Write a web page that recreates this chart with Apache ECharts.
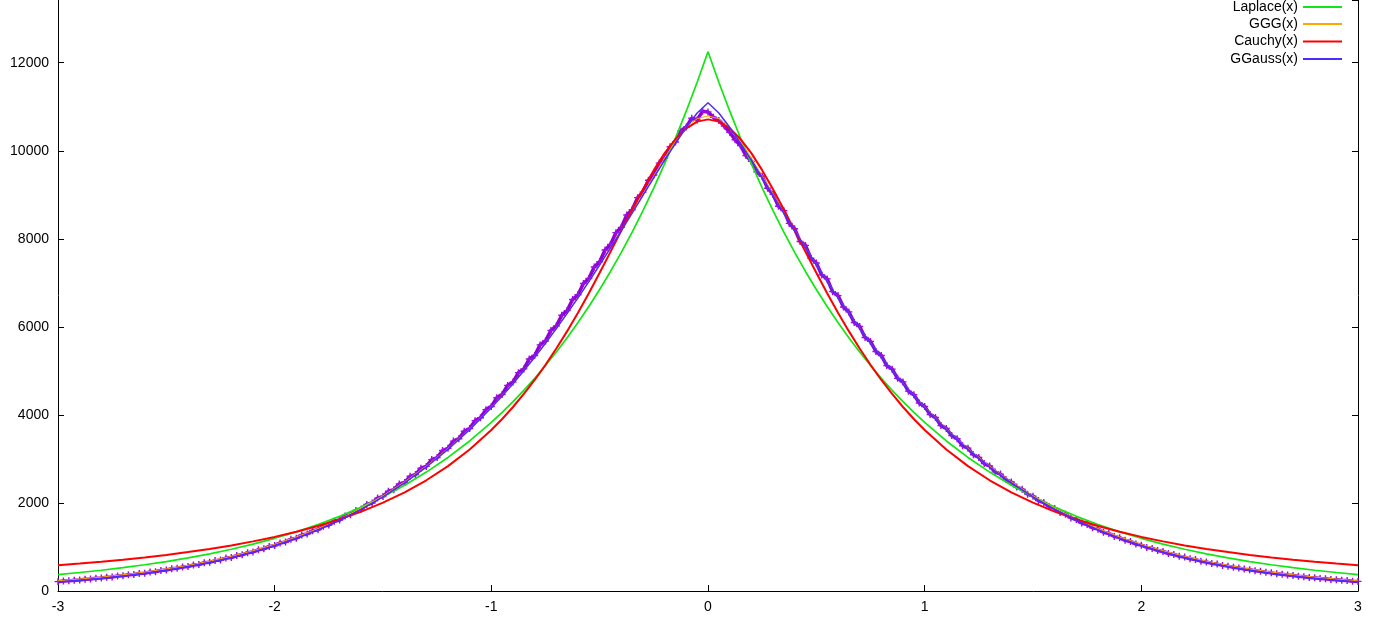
<!DOCTYPE html>
<html>
<head>
<meta charset="utf-8">
<script src="https://cdn.jsdelivr.net/npm/echarts@6/dist/echarts.min.js"></script>
<style>html,body{margin:0;padding:0;background:#fff}#c{width:1374px;height:620px}</style>
</head>
<body>
<div id="c"></div>
<script>
// ---- Data ----
const curveX = [-3,-2.9,-2.8,-2.7,-2.6,-2.5,-2.4,-2.3,-2.2,-2.1,-2,-1.9,-1.8,-1.7,-1.6,-1.5,-1.4,-1.3,-1.2,-1.1,-1,
  -0.95,-0.9,-0.85,-0.8,-0.75,-0.7,-0.65,-0.6,-0.55,-0.5,-0.45,-0.4,-0.35,-0.3,-0.25,-0.2,-0.15,-0.1,-0.05,
  0,
  0.05,0.1,0.15,0.2,0.25,0.3,0.35,0.4,0.45,0.5,0.55,0.6,0.65,0.7,0.75,0.8,0.85,0.9,0.95,
  1,1.1,1.2,1.3,1.4,1.5,1.6,1.7,1.8,1.9,2,2.1,2.2,2.3,2.4,2.5,2.6,2.7,2.8,2.9,3];

const laplaceY = [374,420,472,530,596,669,752,844,948,1065,1197,1344,1510,1696,1905,2140,2404,2701,3034,3408,3829,
  4058,4301,4559,4831,5121,5427,5752,6097,6462,6849,7259,7693,8154,8642,9159,9708,10289,10905,11558,
  12250,
  11558,10905,10289,9708,9159,8642,8154,7693,7259,6849,6462,6097,5752,5427,5121,4831,4559,4301,4058,
  3829,3408,3034,2701,2404,2140,1905,1696,1510,1344,1197,1065,948,844,752,669,596,530,472,420,374];

const gggY = [232,271,316,369,430,501,583,678,788,915,1060,1228,1418,1636,1884,2164,2481,2838,3237,3682,4175,
  4440,4718,5010,5315,5635,5965,6310,6665,7035,7415,7805,8205,8610,9020,9430,9840,10220,10540,10730,
  10790,
  10730,10540,10220,9840,9430,9020,8610,8205,7805,7415,7035,6665,6310,5965,5635,5315,5010,4718,4440,
  4175,3682,3237,2838,2481,2164,1884,1636,1418,1228,1060,915,788,678,583,501,430,369,316,271,232];

const cauchyY = [583,622,664,711,763,820,885,956,1036,1127,1229,1345,1478,1629,1804,2006,2241,2515,2836,3213,3658,
  3908,4180,4476,4794,5138,5507,5903,6322,6765,7228,7704,8186,8665,9128,9560,9946,10267,10510,10662,
  10713,
  10662,10510,10267,9946,9560,9128,8665,8186,7704,7228,6765,6322,5903,5507,5138,4794,4476,4180,3908,
  3658,3213,2836,2515,2241,2006,1804,1629,1478,1345,1229,1127,1036,956,885,820,763,711,664,622,583];

const ggaussY = [204,242,286,338,398,469,551,646,756,883,1028,1196,1388,1607,1856,2138,2457,2816,3218,3666,4163,
  4430,4710,5003,5309,5629,5960,6305,6660,7028,7406,7792,8186,8586,8988,9390,9786,10170,10533,10857,
  11090,
  10857,10533,10170,9786,9390,8988,8586,8186,7792,7406,7028,6660,6305,5960,5629,5309,5003,4710,4430,
  4163,3666,3218,2816,2457,2138,1856,1607,1388,1196,1028,883,756,646,551,469,398,338,286,242,204];

const dataX = [-3,-2.975,-2.95,-2.925,-2.9,-2.875,-2.85,-2.825,-2.8,-2.775,-2.75,-2.725,-2.7,-2.675,-2.65,-2.625,
  -2.6,-2.575,-2.55,-2.525,-2.5,-2.475,-2.45,-2.425,-2.4,-2.375,-2.35,-2.325,-2.3,-2.275,-2.25,-2.225,
  -2.2,-2.175,-2.15,-2.125,-2.1,-2.075,-2.05,-2.025,-2,-1.975,-1.95,-1.925,-1.9,-1.875,-1.85,-1.825,
  -1.8,-1.775,-1.75,-1.725,-1.7,-1.675,-1.65,-1.625,-1.6,-1.575,-1.55,-1.525,-1.5,-1.475,-1.45,-1.425,
  -1.4,-1.375,-1.35,-1.325,-1.3,-1.275,-1.25,-1.225,-1.2,-1.175,-1.15,-1.125,-1.1,-1.075,-1.05,-1.025,
  -1,-0.975,-0.95,-0.925,-0.9,-0.875,-0.85,-0.825,-0.8,-0.775,-0.75,-0.725,-0.7,-0.675,-0.65,-0.625,
  -0.6,-0.575,-0.55,-0.525,-0.5,-0.475,-0.45,-0.425,-0.4,-0.375,-0.35,-0.325,-0.3,-0.275,-0.25,-0.225,
  -0.2,-0.175,-0.15,-0.125,-0.1,-0.075,-0.05,-0.025,
  0,0.025,0.05,0.075,0.1,0.125,0.15,0.175,0.2,0.225,0.25,0.275,0.3,0.325,0.35,0.375,
  0.4,0.425,0.45,0.475,0.5,0.525,0.55,0.575,0.6,0.625,0.65,0.675,0.7,0.725,0.75,0.775,
  0.8,0.825,0.85,0.875,0.9,0.925,0.95,0.975,1,1.025,1.05,1.075,1.1,1.125,1.15,1.175,
  1.2,1.225,1.25,1.275,1.3,1.325,1.35,1.375,1.4,1.425,1.45,1.475,1.5,1.525,1.55,1.575,
  1.6,1.625,1.65,1.675,1.7,1.725,1.75,1.775,1.8,1.825,1.85,1.875,1.9,1.925,1.95,1.975,
  2,2.025,2.05,2.075,2.1,2.125,2.15,2.175,2.2,2.225,2.25,2.275,2.3,2.325,2.35,2.375,
  2.4,2.425,2.45,2.475,2.5,2.525,2.55,2.575,2.6,2.625,2.65,2.675,2.7,2.725,2.75,2.775,
  2.8,2.825,2.85,2.875,2.9,2.925,2.95,2.975,3];

const dataY = [212,226,230,246,250,268,271,290,294,314,319,340,346,368,375,399,
  405,431,440,467,476,506,515,547,557,592,603,641,652,690,705,748,
  760,806,822,871,886,939,957,1012,1031,1092,1112,1177,1199,1270,1293,1368,
  1392,1472,1499,1584,1612,1702,1734,1830,1862,1966,2000,2110,2145,2265,2300,2430,
  2466,2605,2645,2790,2830,2985,3030,3190,3240,3405,3460,3630,3690,3870,3935,4120,
  4190,4390,4465,4670,4745,4960,5045,5270,5350,5590,5680,5920,6020,6265,6370,6620,
  6730,6985,7100,7360,7480,7745,7870,8140,8260,8540,8660,8935,9060,9330,9450,9720,
  9830,10090,10200,10450,10540,10740,10700,10900,
  10880,10760,10690,10560,10420,10250,10120,9890,9760,9520,9420,9150,9010,8740,8640,8350,
  8230,7940,7850,7560,7450,7180,7090,6800,6710,6450,6340,6100,6010,5760,5670,5440,
  5350,5120,5040,4830,4750,4540,4460,4270,4190,4010,3940,3760,3690,3530,3460,3300,
  3245,3095,3035,2895,2840,2705,2655,2530,2475,2360,2310,2200,2155,2055,2010,1915,
  1875,1785,1745,1660,1625,1545,1510,1435,1405,1335,1305,1240,1212,1150,1124,1066,
  1042,990,968,921,897,852,831,790,770,731,713,678,660,627,611,582,
  565,537,522,497,482,460,446,424,412,393,380,362,351,334,325,308,
  299,285,277,262,255,242,236,223,218];

const xTicks = {min: -3, max: 3, interval: 1};
const yTicks = {min: 0, max: 13425, interval: 2000};
const seriesNames = ['Laplace(x)', 'GGG(x)', 'Cauchy(x)', 'GGauss(x)'];
const seriesColors = ['#12e612', '#ffa500', '#ff0000', '#4a2dff'];

// ---- Build chart ----
const pair = (xs, ys) => xs.map((x, i) => [x, ys[i]]);
const curves = [laplaceY, gggY, cauchyY, ggaussY];
const widths = [1.7, 1, 2, 1.5];
const font = "'Liberation Sans', Arial, Helvetica, sans-serif";

const chart = echarts.init(document.getElementById('c'), null, {renderer: 'canvas'});
const plus = 'path://M2,0H3V2H5V3H3V5H2V3H0V2H2Z';

const series = [
  {
    name: 'data', type: 'line', data: pair(dataX, dataY),
    lineStyle: {color: '#9400d3', width: 3.5}, itemStyle: {color: '#9a10e0'},
    symbol: plus, symbolSize: 7, showSymbol: true, showAllSymbol: true,
    silent: true, z: 2
  }
].concat(curves.map((c, i) => ({
  name: seriesNames[i], type: 'line', data: pair(curveX, c),
  showSymbol: false, symbol: 'none', smooth: false,
  lineStyle: {color: seriesColors[i], width: widths[i]},
  itemStyle: {color: seriesColors[i]}, z: 3
})));

const legendTops = [0, 17, 34.5, 52];
const legends = seriesNames.map((n, i) => ({
  data: [n], orient: 'vertical', right: 32, top: legendTops[i], padding: 0,
  icon: 'rect', itemWidth: 39, itemHeight: 2, align: 'right', itemGap: 0,
  textStyle: {fontSize: 14, color: '#000', fontFamily: font},
  selectedMode: false
}));

const yLabelFmt = v => String(v);

chart.setOption({
  animation: false,
  backgroundColor: '#fff',
  grid: {left: 58, right: 16, top: 0, bottom: 29, containLabel: false, outerBoundsMode: 'none'},
  legend: legends,
  xAxis: {
    type: 'value', min: xTicks.min, max: xTicks.max, interval: xTicks.interval,
    axisLine: {show: true, onZero: false, lineStyle: {color: '#000', width: 1}},
    axisTick: {show: true, inside: true, length: 6, lineStyle: {color: '#000'}},
    axisLabel: {color: '#000', fontSize: 14, fontFamily: font, margin: 9},
    splitLine: {show: false}
  },
  yAxis: [{
    type: 'value', position: 'left', min: yTicks.min, max: yTicks.max, interval: yTicks.interval,
    axisLine: {show: true, onZero: false, lineStyle: {color: '#000', width: 1}},
    axisTick: {show: true, inside: true, length: 6, lineStyle: {color: '#000'}},
    axisLabel: {color: '#000', fontSize: 14, fontFamily: font, margin: 9, formatter: yLabelFmt, showMaxLabel: false},
    splitLine: {show: false}
  }, {
    type: 'value', position: 'right', min: yTicks.min, max: yTicks.max, interval: yTicks.interval,
    axisLine: {show: true, onZero: false, lineStyle: {color: '#000', width: 1}},
    axisTick: {show: true, inside: true, length: 6, lineStyle: {color: '#000'}},
    axisLabel: {show: false},
    splitLine: {show: false}
  }],
  series: series
});
</script>
</body>
</html>
